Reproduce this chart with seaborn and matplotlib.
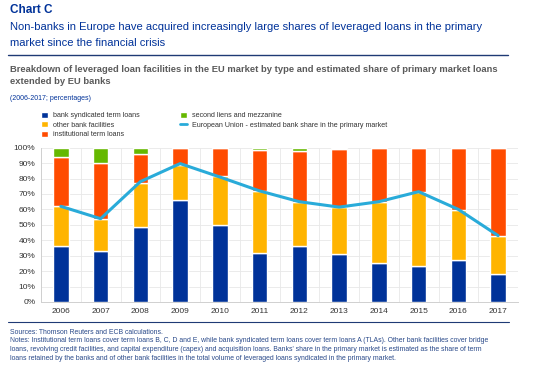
import numpy as np
import pandas as pd
import matplotlib
matplotlib.use("Agg")
import matplotlib.pyplot as plt
from matplotlib.patches import Patch
from matplotlib.lines import Line2D
import seaborn as sns

years = ["2006", "2007", "2008", "2009", "2010", "2011", "2012", "2013", "2014", "2015", "2016", "2017"]
bank_syndicated = [36, 33, 48.5, 66, 50, 31.5, 36, 31, 25, 23.5, 27, 18.3]
other_bank = [26, 21, 28.5, 23, 31.5, 40.5, 29, 30.6, 40, 47.8, 32.5, 24.7]
institutional = [32, 36, 19, 11, 18.5, 26.7, 33, 37.4, 35, 28.7, 40.5, 57]
second_liens = [6, 10, 4, 0, 0, 1.3, 2, 1, 0, 0, 0, 0]
eu_bank_share = [62, 54, 78, 89.7, 81, 72, 65, 61.5, 65, 71.5, 60, 43]

C_BLUE = "#003299"
C_ORANGE = "#FFB400"
C_RED = "#FF4B00"
C_GREEN = "#65B800"
C_LINE = "#29ABD9"
TXT_BLUE = "#003299"

sns.set_theme(style="white")
plt.rcParams["font.family"] = ["Liberation Sans", "DejaVu Sans"]

df = pd.DataFrame({
    "year": years,
    "bank": bank_syndicated,
    "other": other_bank,
    "inst": institutional,
    "second": second_liens,
    "share": eu_bank_share,
})
df["b1"] = df["bank"]
df["b2"] = df["b1"] + df["other"]
df["b3"] = df["b2"] + df["inst"]

fig = plt.figure(figsize=(5.4, 3.65), dpi=100)
W, H = 540, 365
ax = fig.add_axes([41 / W, 1 - 302 / H, (518 - 41) / W, (302 - 147.7) / H])

bw = 0.39
sns.barplot(data=df, x="year", y="bank", color=C_BLUE, width=bw, ax=ax, saturation=1, zorder=3)
sns.barplot(data=df, x="year", y="other", bottom=df["b1"], color=C_ORANGE, width=bw, ax=ax, saturation=1, zorder=3)
sns.barplot(data=df, x="year", y="inst", bottom=df["b2"], color=C_RED, width=bw, ax=ax, saturation=1, zorder=3)
sns.barplot(data=df, x="year", y="second", bottom=df["b3"], color=C_GREEN, width=bw, ax=ax, saturation=1, zorder=3)
sns.pointplot(data=df, x="year", y="share", color=C_LINE, markers="", linewidth=2.2, ax=ax, zorder=5)

ax.set_xlim(-0.5, len(years) - 0.5)
ax.set_ylim(0, 100)
ax.set_yticks(np.arange(0, 101, 10))
ax.set_yticklabels([f"{v}%" for v in range(0, 101, 10)], fontsize=6, color="#333333")
ax.set_xticks(np.arange(len(years)))
ax.set_xticklabels(years, fontsize=6, color="#333333")
ax.set_xticks(np.arange(-0.5, len(years), 1), minor=True)
ax.grid(False)
ax.yaxis.grid(True, color="#E8E8E8", linewidth=0.6, zorder=0)
ax.xaxis.grid(True, which="minor", color="#E8E8E8", linewidth=0.6, zorder=0)
ax.tick_params(axis="both", which="both", length=0, pad=4)
ax.set_xlabel("")
ax.set_ylabel("")
for s in ["top", "right"]:
    ax.spines[s].set_visible(False)
for s in ["left", "bottom"]:
    ax.spines[s].set_color("#D0D0D0")
    ax.spines[s].set_linewidth(0.7)

# Titles
fig.text(10 / W, 1 - 10 / H, "Chart C", fontsize=8.5, fontweight="bold", color=TXT_BLUE, va="center")
fig.text(10 / W, 1 - 27 / H, "Non-banks in Europe have acquired increasingly large shares of leveraged loans in the primary",
         fontsize=8.05, color=TXT_BLUE, va="center")
fig.text(10 / W, 1 - 43 / H, "market since the financial crisis", fontsize=8.05, color=TXT_BLUE, va="center")
fig.add_artist(Line2D([8 / W, 508 / W], [1 - 54.5 / H, 1 - 54.5 / H], color="#1F3A75", linewidth=1.0))

fig.text(10 / W, 1 - 70 / H, "Breakdown of leveraged loan facilities in the EU market by type and estimated share of primary market loans",
         fontsize=6.75, fontweight="bold", color="#5A5A5A", va="center")
fig.text(10 / W, 1 - 81 / H, "extended by EU banks", fontsize=6.75, fontweight="bold", color="#5A5A5A", va="center")
fig.text(10 / W, 1 - 98 / H, "(2006-2017; percentages)", fontsize=5, color=TXT_BLUE, va="center")

handles = [
    Patch(facecolor=C_BLUE, label="bank syndicated term loans"),
    Patch(facecolor=C_ORANGE, label="other bank facilities"),
    Patch(facecolor=C_RED, label="institutional term loans"),
    Patch(facecolor=C_GREEN, label="second liens and mezzanine"),
    Line2D([0], [0], color=C_LINE, linewidth=2, label="European Union - estimated bank share in the primary market"),
]
leg = fig.legend(handles=handles, loc="upper left", bbox_to_anchor=(41 / W, 1 - 111.5 / H), ncol=2,
                 frameon=False, fontsize=5.1, handlelength=0.95, handleheight=0.95, handletextpad=0.7,
                 columnspacing=5.75, labelspacing=0.3, borderpad=0, borderaxespad=0)
for t in leg.get_texts():
    t.set_color("#333333")

fig.add_artist(Line2D([8 / W, 509 / W], [1 - 322 / H, 1 - 322 / H], color="#1F3A75", linewidth=0.8))
notes = [
    "Sources: Thomson Reuters and ECB calculations.",
    "Notes: Institutional term loans cover term loans B, C, D and E, while bank syndicated term loans cover term loans A (TLAs). Other bank facilities cover bridge",
    "loans, revolving credit facilities, and capital expenditure (capex) and acquisition loans. Banks' share in the primary market is estimated as the share of term",
    "loans retained by the banks and of other bank facilities in the total volume of leveraged loans syndicated in the primary market.",
]
for i, line in enumerate(notes):
    y = [332, 341, 349.5, 358][i]
    fig.text(10 / W, 1 - y / H, line, fontsize=4.95, color="#2A4A8A", va="center")

fig.savefig("out.png", dpi=100)
